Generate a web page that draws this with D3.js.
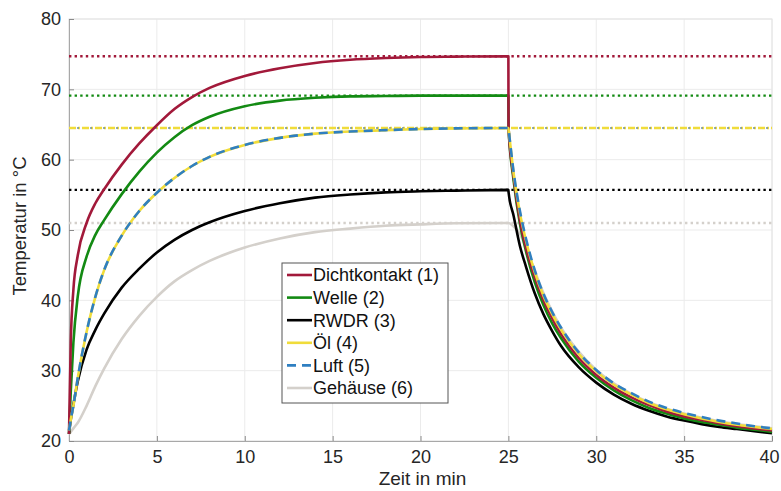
<!DOCTYPE html>
<html><head><meta charset="utf-8">
<script src="https://cdn.jsdelivr.net/npm/d3@7"></script>
<style>
html,body{margin:0;padding:0;background:#fff;}
svg{display:block;font-family:"Liberation Sans",Arial,sans-serif;}
</style></head>
<body><svg id="chart" width="781" height="491"></svg>
<script>
// ---- data ----
const xTicks = [0,5,10,15,20,25,30,35,40];
const yTicks = [20,30,40,50,60,70,80];
const seriesNames = ["Dichtkontakt (1)","Welle (2)","RWDR (3)","Öl (4)","Luft (5)","Gehäuse (6)"];
const steadyValues = [74.7, 69.1, 55.7, 64.5, 64.5, 51.0];

const timeHeat = [0,0.1,0.25,0.5,1,1.5,2,3,4,5,6,7,8,10,12,14,16,18,20,22,25];
const timeCool = [25.01,25.3,25.65,26,26.5,27,27.5,28,29,30,31,32,33,34,35,36,37,38,39,40];

const dichtHeat = [21,34,41.5,46.4,51,53.8,55.8,59.3,62.3,64.9,67.2,68.9,70.2,71.9,73,73.75,74.2,74.45,74.6,74.65,74.7];
const dichtCool = [64.5,57.5,51.5,47.5,43.3,40,37.4,35.2,31.8,29.4,27.6,26.2,25.1,24.2,23.5,23,22.5,22.1,21.8,21.5];

const welleHeat = [21,27,34,40.6,46.2,49.3,51.4,55.1,58.3,61,63.2,64.9,66.1,67.6,68.4,68.8,69,69.05,69.1,69.1,69.1];
const welleCool = [64.5,57,51,47,42.6,39.3,36.7,34.6,31.3,29,27.2,25.8,24.7,23.9,23.2,22.7,22.3,21.9,21.6,21.3];

const rwdrHeat = [21,23,25.2,28.5,33,35.8,38.1,41.8,44.5,46.8,48.6,50,51.1,52.7,53.8,54.6,55.05,55.35,55.5,55.6,55.7];
const rwdrCool = [55.4,52,47.8,44.8,41,38,35.6,33.5,30.5,28.3,26.6,25.3,24.3,23.5,22.9,22.4,22,21.7,21.4,21.1];

const oelHeat = [21.5,23,25,29,35.5,40.5,44.3,49.2,52.7,55.3,57.4,59.1,60.4,62.1,63.1,63.7,64,64.2,64.35,64.45,64.5];
const oelCool = [64.3,58,52.5,48.5,44,40.6,38,35.8,32.4,29.9,28,26.6,25.4,24.5,23.8,23.2,22.7,22.3,22,21.7];

const luftHeat = [21.5,23,25,29,35.5,40.5,44.3,49.2,52.7,55.3,57.4,59.1,60.4,62.1,63.1,63.7,64,64.2,64.35,64.45,64.5];
const luftCool = [64.3,58.2,52.8,48.8,44.3,40.9,38.3,36.1,32.6,30.1,28.2,26.8,25.6,24.7,24,23.4,22.9,22.5,22.1,21.8];

const gehHeat = [21,21.3,21.8,22.6,25,27.8,30.3,34.5,37.8,40.5,42.7,44.3,45.6,47.5,48.8,49.7,50.2,50.6,50.8,50.95,51];
const gehCool = [51,50.5,49.5,47.5,44.2,41,38.4,36.1,32.7,30.1,28.2,26.7,25.5,24.6,23.9,23.3,22.8,22.4,22.1,21.8];

const colors = ["#a2193a","#138a13","#000000","#f0dc3a","#2f7fc1","#d4d0cb"];

// ---- build ----
const heat = [dichtHeat,welleHeat,rwdrHeat,oelHeat,luftHeat,gehHeat];
const cool = [dichtCool,welleCool,rwdrCool,oelCool,luftCool,gehCool];
const series = seriesNames.map((n,i)=>({
  name:n, color:colors[i], steady:steadyValues[i],
  pts: timeHeat.map((t,j)=>[t,heat[i][j]]).concat(timeCool.map((t,j)=>[t,cool[i][j]]))
}));

const W=781,H=491, m={l:69,r:9,t:19,b:50};
const svg=d3.select("#chart");
const x=d3.scaleLinear().domain([0,40]).range([m.l,W-m.r]);
const y=d3.scaleLinear().domain([20,80]).range([H-m.b,m.t]);

// grid
const g=svg.append("g");
g.selectAll(".gx").data(xTicks).join("line")
  .attr("x1",d=>x(d)).attr("x2",d=>x(d)).attr("y1",y(20)).attr("y2",y(80))
  .attr("stroke","#ebebeb").attr("stroke-width",1);
g.selectAll(".gy").data(yTicks).join("line")
  .attr("y1",d=>y(d)).attr("y2",d=>y(d)).attr("x1",x(0)).attr("x2",x(40))
  .attr("stroke","#ebebeb").attr("stroke-width",1);

// box
svg.append("rect").attr("x",x(0)).attr("y",y(80)).attr("width",x(40)-x(0)).attr("height",y(20)-y(80))
  .attr("fill","none").attr("stroke","#e4e4e4");

// axes
const ax=d3.axisBottom(x).tickValues(xTicks).tickSize(-5).tickPadding(9).tickFormat(d3.format("d"));
const ay=d3.axisLeft(y).tickValues(yTicks).tickSize(-5).tickPadding(8).tickFormat(d3.format("d"));
const gx=svg.append("g").attr("transform",`translate(0,${y(20)})`).call(ax);
const gy=svg.append("g").attr("transform",`translate(${x(0)},0)`).call(ay);
[gx,gy].forEach(a=>{
  a.select(".domain").attr("stroke","#a8a8a8");
  a.selectAll(".tick line").attr("stroke","#8a8a8a");
  a.selectAll("text").attr("fill","#262626").style("font-size","18px").style("font-family","Liberation Sans, Arial, sans-serif");
});
gx.selectAll("text").attr("dy","0.71em");
gx.selectAll(".tick").filter(d=>d===40).select("text").attr("dx",-3);

svg.append("text").attr("x",x(20)+2).attr("y",485).attr("text-anchor","middle")
  .style("font-size","19px").style("font-family","'Liberation Sans Narrow','Liberation Sans',Arial,sans-serif")
  .attr("fill","#262626").text("Zeit in min");
svg.append("text").attr("transform",`translate(26,226) rotate(-90)`).attr("text-anchor","middle")
  .style("font-size","18.5px").attr("fill","#262626").text("Temperatur in °C");

// steady-state dotted lines
const dotted=[0,1,2,5,3];
dotted.forEach(i=>{
  const s=series[i];
  const ln=svg.append("line").attr("x1",x(0)).attr("x2",x(40)).attr("y1",y(s.steady)).attr("y2",y(s.steady))
    .attr("stroke",s.color).attr("stroke-width",2.4);
  if(i===3){ ln.attr("stroke-dasharray","7,2,2,2"); }
  else ln.attr("stroke-dasharray","2.4,3.2");
});
// blue dots over Öl/Luft steady line
svg.append("line").attr("x1",x(0)).attr("x2",x(40)).attr("y1",y(steadyValues[4])).attr("y2",y(steadyValues[4]))
  .attr("stroke","#6e8fa8").attr("stroke-width",1.6).attr("stroke-dasharray","2,11").attr("stroke-dashoffset",-8);

// curves
const line=d3.line().x(d=>x(d[0])).y(d=>y(d[1])).curve(d3.curveMonotoneX);
const order=[5,2,1,0,3,4];
order.forEach(i=>{
  const s=series[i];
  const p=svg.append("path").datum(s.pts).attr("d",line).attr("fill","none")
    .attr("stroke",s.color).attr("stroke-width",2.6).attr("stroke-linejoin","round");
  if(i===4) p.attr("stroke-dasharray","9,6");
});

// legend
const lg=svg.append("g").attr("transform","translate(282,263)");
lg.append("rect").attr("width",166).attr("height",140).attr("fill","#fff").attr("stroke","#555").attr("stroke-width",1);
series.forEach((s,i)=>{
  const yy=12+i*22.6;
  const l=lg.append("line").attr("x1",5).attr("x2",30).attr("y1",yy).attr("y2",yy)
    .attr("stroke",s.color).attr("stroke-width",2.6);
  if(i===4) l.attr("stroke-dasharray","9,6");
  lg.append("text").attr("x",31).attr("y",yy).attr("dy","0.35em").style("font-size","18px")
    .attr("fill","#111").text(s.name);
});
</script></body></html>
